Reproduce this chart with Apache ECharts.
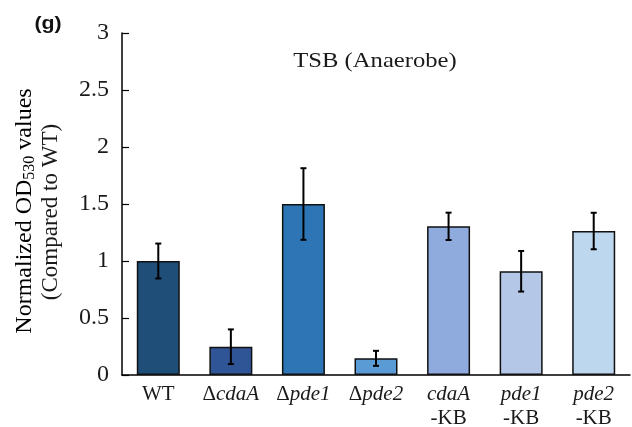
<!DOCTYPE html>
<html><head><meta charset="utf-8">
<script src="https://cdn.jsdelivr.net/npm/echarts@6/dist/echarts.min.js"></script>
<style>html,body{margin:0;padding:0;background:#fff}#c{width:632px;height:427px}</style>
</head><body><div id="c"></div>
<script>
const categories = ['WT', 'ΔcdaA', 'Δpde1', 'Δpde2', 'cdaA-KB', 'pde1-KB', 'pde2-KB'];
const categoryLabels = ['{n|WT}', '{n|Δ}{i|cdaA}', '{n|Δ}{i|pde1}', '{n|Δ}{i|pde2}', '{i|cdaA}\n{n|-KB}', '{i|pde1}\n{n|-KB}', '{i|pde2}\n{n|-KB}'];
const values = [1.0, 0.248, 1.5, 0.146, 1.304, 0.91, 1.263];
const errors = [0.153, 0.152, 0.314, 0.066, 0.12, 0.178, 0.16];
const barColors = ['#1f4e79', '#2f5597', '#2e75b6', '#5b9bd5', '#8faadc', '#b4c7e7', '#bdd7ee'];
const yTicks = [0, 0.5, 1, 1.5, 2, 2.5, 3];

const serif = 'Liberation Serif';
const ink = '#1a1a1a';
const chart = echarts.init(document.getElementById('c'), null, {renderer: 'canvas'});
chart.setOption({
  animation: false,
  backgroundColor: '#fff',
  grid: {left: 122, right: 2, top: 33, bottom: 52, containLabel: false, outerBoundsMode: 'none'},
  graphic: [
    {type: 'text', x: 48, y: 24, scaleX: 1.12,
      style: {text: '(g)', align: 'center', verticalAlign: 'middle', fontFamily: 'Liberation Sans', fontWeight: 'bold', fontSize: 19, fill: '#111'}},
    {type: 'text', x: 375, y: 61, scaleX: 1.12,
      style: {text: 'TSB (Anaerobe)', align: 'center', verticalAlign: 'middle', fontFamily: serif, fontSize: 22, fill: ink}},
    {type: 'text', x: 25, y: 211, rotation: Math.PI / 2,
      style: {text: '{n|Normalized OD}{s|530}{n| values}', align: 'center', verticalAlign: 'middle',
        rich: {n: {fontFamily: serif, fontSize: 24, color: ink},
               s: {fontFamily: serif, fontSize: 16, color: ink, padding: [10, 0, 0, 0]}}}},
    {type: 'text', x: 51, y: 212, rotation: Math.PI / 2,
      style: {text: '(Compared to WT)', align: 'center', verticalAlign: 'middle', fontFamily: serif, fontSize: 23, fill: ink}}
  ],
  xAxis: {
    type: 'category', data: categories,
    axisLine: {lineStyle: {color: '#000', width: 1.5}},
    axisTick: {show: false},
    axisLabel: {
      interval: 0, margin: 7, lineHeight: 24,
      formatter: (v, i) => categoryLabels[i],
      rich: {n: {fontFamily: serif, fontSize: 21, color: ink, lineHeight: 24},
             i: {fontFamily: serif, fontSize: 21, fontStyle: 'italic', color: ink, lineHeight: 24}}
    }
  },
  yAxis: {
    type: 'value', min: 0, max: 3, interval: 0.5,
    axisLine: {show: true, lineStyle: {color: '#000', width: 1.5}},
    axisTick: {show: true, inside: true, length: 7, lineStyle: {color: '#000', width: 1.2}},
    splitLine: {show: false},
    axisLabel: {margin: 13, fontFamily: serif, fontSize: 24, color: ink,
      formatter: v => String(yTicks.find(t => Math.abs(t - v) < 1e-9) ?? v)}
  },
  series: [
    {
      type: 'bar', barWidth: 43,
      data: values.map((v, i) => ({value: v, itemStyle: {color: barColors[i]}})),
      itemStyle: {borderColor: '#111', borderWidth: 1.5}
    },
    {
      type: 'custom', z: 10,
      data: values.map((v, i) => [i, v - errors[i], v + errors[i]]),
      renderItem: (params, api) => {
        const lo = api.coord([api.value(0), api.value(1)]);
        const hi = api.coord([api.value(0), api.value(2)]);
        const x = lo[0], hw = 3;
        const st = {stroke: '#000', lineWidth: 2};
        return {type: 'group', children: [
          {type: 'line', shape: {x1: x, y1: lo[1], x2: x, y2: hi[1]}, style: st},
          {type: 'line', shape: {x1: x - hw, y1: lo[1], x2: x + hw, y2: lo[1]}, style: st},
          {type: 'line', shape: {x1: x - hw, y1: hi[1], x2: x + hw, y2: hi[1]}, style: st}
        ]};
      }
    }
  ]
});
</script></body></html>
